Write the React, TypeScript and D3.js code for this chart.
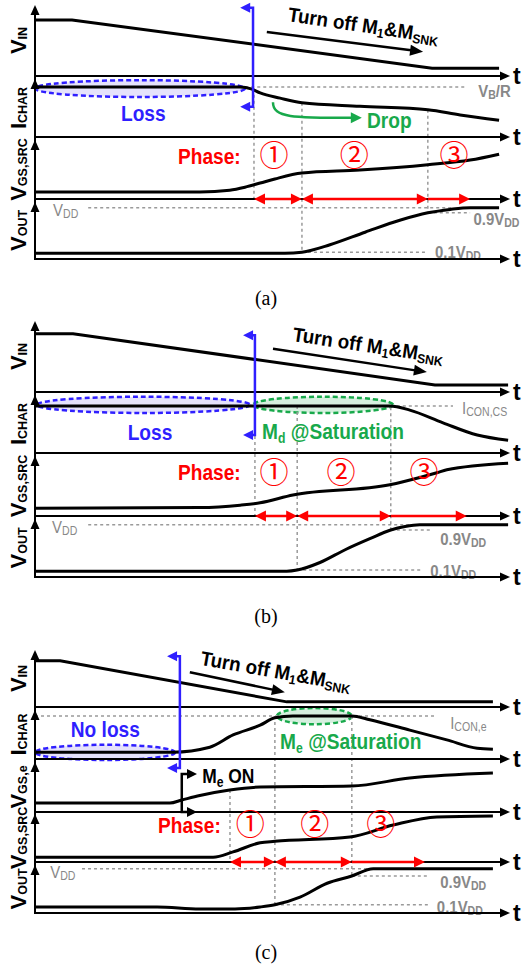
import React from 'react'
import * as d3 from 'd3'

type Pt = [number, number]
type Part = [string, boolean]
type Lvl = [string, number]

// time runs 0..100 across every panel, values are fractions of a row's height
const A_VIN: Pt[] = [[0, 0.79], [7.8, 0.79], [83.6, 0.11], [97.7, 0.11]]
const A_ICHAR: Pt[] = [[0, 0.86], [43.2, 0.86], [45.5, 0.83], [47.4, 0.76], [51.6, 0.67], [56.2, 0.59], [68.4, 0.53], [82.7, 0.47], [89.5, 0.38], [97.7, 0.29]]
const A_VGS_SRC: Pt[] = [[0, 0.12], [34.7, 0.12], [41, 0.15], [44.2, 0.2], [47.4, 0.27], [50.5, 0.34], [56.2, 0.44], [68.4, 0.49], [82.7, 0.58], [91.6, 0.66], [97.7, 0.76]]
const A_VOUT: Pt[] = [[0, 0.1], [52.6, 0.1], [56.2, 0.12], [62.1, 0.25], [69.5, 0.47], [76.8, 0.68], [82.7, 0.81], [87.4, 0.87], [91.6, 0.9], [97.7, 0.9]]

const B_VIN: Pt[] = [[0, 0.82], [8, 0.82], [84.2, 0.1], [99.6, 0.1]]
const B_ICHAR: Pt[] = [[0, 0.81], [74.7, 0.81], [78.9, 0.74], [85.9, 0.52], [93.1, 0.31], [99.6, 0.22]]
const B_VGS_SRC: Pt[] = [[0, 0.13], [34.7, 0.14], [43.2, 0.18], [47.4, 0.22], [54.3, 0.35], [74.7, 0.52], [77.5, 0.57], [84.6, 0.72], [86.7, 0.77], [99.6, 0.88]]
const B_VOUT: Pt[] = [[0, 0.1], [53, 0.1], [55.2, 0.12], [60, 0.25], [65.3, 0.47], [70.5, 0.66], [74.9, 0.81], [77.9, 0.87], [81, 0.9], [99.6, 0.9]]

const C_VIN: Pt[] = [[0, 0.81], [5.3, 0.81], [53, 0.09], [96.4, 0.09]]
const C_ICHAR: Pt[] = [[0, 0.14], [29, 0.14], [36.8, 0.24], [41.7, 0.49], [47.4, 0.69], [50.5, 0.84], [54.3, 0.88], [66.7, 0.88], [70.5, 0.8], [78.9, 0.59], [86.7, 0.39], [93.1, 0.22], [96.4, 0.2]]
const C_VGS_E: Pt[] = [[0, 0.18], [28.4, 0.18], [30.9, 0.24], [34.7, 0.33], [41, 0.44], [47.4, 0.5], [66.7, 0.52], [78.9, 0.68], [96.4, 0.78]]
const C_VGS_SRC: Pt[] = [[0, 0.1], [37.5, 0.1], [41.7, 0.21], [47.4, 0.4], [50.5, 0.43], [66.3, 0.52], [75.4, 0.77], [84.6, 0.94], [96.4, 0.96]]
const C_VOUT: Pt[] = [[0, 0.125], [25.7, 0.125], [34.7, 0.085], [42.1, 0.085], [47.4, 0.125], [50.5, 0.17], [55.8, 0.33], [61.5, 0.62], [66.7, 0.77], [71.2, 0.92], [96.4, 0.92]]

// phase boundaries (last one is the end of the phase-3 arrow)
const A_PHASES = [46.1, 56.2, 82.7, 91.6]
const B_PHASES = [46.3, 55.2, 74.9, 90.9]
const C_PHASES = [41.05, 50.5, 66.7, 82.1]
const PHASE_MARKS = ['\u2460', '\u2461', '\u2462']
const A_MARKS = [50.3, 67.2, 88.2]
const B_MARKS = [50.3, 64.4, 81.9]
const C_MARKS = [45.3, 58.9, 72.8]

const BLUE = '#2f1fff'
const GREEN = '#18a94b'
const RED = '#ff0000'
const GRAY = '#888888'
const DASH = '#9a9a9a'
const SANS = '"Liberation Sans", Arial, Helvetica, sans-serif'
const BLUE_FILL = 'rgba(80,60,230,0.15)'
const GREEN_FILL = 'rgba(30,170,80,0.18)'

const X0 = 35
const X1 = 510
const X = d3.scaleLinear().domain([0, 100]).range([X0, X1])

interface Row { key: string; top: number; base: number; main: string; sub: string }
interface Ref { row: string; v: number; t0: number; t1: number; lt: number; lv: number; parts: Part[]; bold?: boolean }
interface Ell { row: string; t0: number; t1: number; v0: number; v1: number; color: string; fill: string }
interface Note { row: string; t: number; v: number; parts: Part[]; color: string; anchor?: string; size?: number }
interface Bracket { t: number; arm: number; top: Lvl; bot: Lvl; color: string }
interface TurnOff { t: number; v: number; angle: number; a0: Pt; a1: Pt }
interface PanelProps {
  rows: Row[]
  series: Record<string, Pt[]>
  phases: number[]
  marks: number[]
  phaseText: Pt
  divFrom: Lvl[]
  divTo: Lvl[]
  refs: Ref[]
  ellipses: Ell[]
  notes: Note[]
  brackets: Bracket[]
  turnOff: TurnOff
  drop?: [Pt, Pt]
  caption: string
  captionY: number
}

function head(x: number, y: number, ang: number, len = 10, hw = 4.5) {
  const c = Math.cos(ang)
  const s = Math.sin(ang)
  const bx = x - len * c
  const by = y - len * s
  return `M${x},${y}L${bx - s * hw},${by + c * hw}L${bx + s * hw},${by - c * hw}Z`
}

function rich(parts: Part[], subSize: number, subDy: number) {
  let low = false
  return parts.map(([s, sub], i) => {
    let dy = 0
    if (sub && !low) { dy = subDy; low = true } else if (!sub && low) { dy = -subDy; low = false }
    return (
      <tspan key={i} dy={dy || undefined} fontSize={sub ? subSize : undefined}>{s}</tspan>
    )
  })
}

function Panel(p: PanelProps) {
  const ys: Record<string, d3.ScaleLinear<number, number>> = {}
  p.rows.forEach(r => { ys[r.key] = d3.scaleLinear().domain([0, 1]).range([r.base, r.top]) })
  const Y = (l: Lvl) => ys[l[0]](l[1])
  const top = p.rows[0].top
  const bottom = p.rows[p.rows.length - 1].base
  const phaseY = ys['VGS'](0)

  return (
    <g>
      {p.ellipses.map((e, i) => {
        const y0 = ys[e.row](e.v0)
        const y1 = ys[e.row](e.v1)
        return (
          <ellipse key={i} cx={(X(e.t0) + X(e.t1)) / 2} cy={(y0 + y1) / 2}
            rx={(X(e.t1) - X(e.t0)) / 2} ry={Math.abs(y1 - y0) / 2}
            fill={e.fill} stroke={e.color} strokeWidth={2.5} strokeDasharray="5,3" />
        )
      })}

      {p.refs.map((r, i) => {
        const y = ys[r.row](r.v)
        return (
          <g key={i}>
            <line x1={X(r.t0)} x2={X(r.t1)} y1={y} y2={y} stroke={DASH} strokeWidth={1.5} strokeDasharray="3,3" />
            <g transform={`translate(${X(r.lt)},${ys[r.row](r.lv)}) scale(0.88,1)`}>
              <text dy="0.35em" fontSize={17} fill={GRAY} fontWeight={r.bold ? 'bold' : 'normal'}>
                {rich(r.parts, 12, 2)}
              </text>
            </g>
          </g>
        )
      })}

      {p.divFrom.map((f, i) => (
        <line key={i} x1={X(p.phases[i])} x2={X(p.phases[i])} y1={Y(f)} y2={Y(p.divTo[i])}
          stroke={DASH} strokeWidth={1.5} strokeDasharray="3,3" />
      ))}

      <line x1={X0} x2={X0} y1={bottom + 1} y2={top + 8} stroke="#000" strokeWidth={2} />
      {p.rows.map(r => (
        <g key={r.key}>
          <line x1={X0} x2={X1 - 8} y1={r.base} y2={r.base} stroke="#000" strokeWidth={2} />
          <path d={head(X1, r.base, 0)} fill="#000" />
          <text x={513} y={r.base} dy="0.35em" fontSize={23} fontWeight="bold">t</text>
          <path d={head(X0, r.top, -Math.PI / 2)} fill="#000" />
          <text transform={`translate(26,${(r.top + r.base) / 2}) rotate(-90)`} textAnchor="middle"
            fontSize={22} fontWeight="bold">
            {r.main}<tspan fontSize={12.5} dy={1}>{r.sub}</tspan>
          </text>
        </g>
      ))}

      {p.rows.map(r => {
        const y = ys[r.key]
        const line = d3.line<Pt>()
          .x(d => X(d[0]))
          .y(d => y(d[1]))
          .curve(r.key === 'VIN' ? d3.curveLinear : d3.curveMonotoneX)
        return <path key={r.key} d={line(p.series[r.key]) || ''} fill="none" stroke="#000" strokeWidth={3} />
      })}

      {[0, 1, 2].map(i => {
        const xa = X(p.phases[i])
        const xb = X(p.phases[i + 1])
        const both = i < 2
        return (
          <g key={i} fill={RED}>
            <line x1={both ? xa + 8 : xa} x2={xb - 8} y1={phaseY} y2={phaseY} stroke={RED} strokeWidth={2.5} />
            {both && <path d={head(xa, phaseY, Math.PI, 11, 5.5)} />}
            <path d={head(xb, phaseY, 0, 11, 5.5)} />
          </g>
        )
      })}

      <g transform={`translate(${X(p.phaseText[0])},${ys['VGS'](p.phaseText[1])}) scale(0.87,1)`}>
        <text dy="0.35em" fontSize={22} fontWeight="bold" fill={RED}>Phase:</text>
      </g>
      {p.marks.map((t, i) => (
        <text key={i} x={X(t)} y={ys['VGS'](p.phaseText[1])} dy="0.36em" textAnchor="middle" fontSize={29}
          fill={RED} fontFamily='"Noto Sans CJK JP", "DejaVu Sans", sans-serif'>{PHASE_MARKS[i]}</text>
      ))}

      {p.notes.map((n, i) => (
        <g key={i} transform={`translate(${X(n.t)},${ys[n.row](n.v)}) scale(0.87,1)`}>
          <text dy="0.35em" fontSize={n.size || 22} fontWeight="bold" fill={n.color} textAnchor={n.anchor || 'start'}>
            {rich(n.parts, 14, 4)}
          </text>
        </g>
      ))}

      {p.brackets.map((b, i) => {
        const xl = X(b.t)
        const xa = X(b.arm)
        const dir = Math.sign(xa - xl)
        const yT = Y(b.top)
        const yB = Y(b.bot)
        return (
          <g key={i}>
            <path d={`M${xa - dir * 9},${yT}H${xl}V${yB}H${xa - dir * 9}`} fill="none" stroke={b.color} strokeWidth={2.5} />
            <path d={head(xa, yT, dir > 0 ? 0 : Math.PI, 10, 5)} fill={b.color} />
            <path d={head(xa, yB, dir > 0 ? 0 : Math.PI, 10, 5)} fill={b.color} />
          </g>
        )
      })}

      {(() => {
        const t = p.turnOff
        const ax0 = X(t.a0[0]), ay0 = ys['VIN'](t.a0[1])
        const ax1 = X(t.a1[0]), ay1 = ys['VIN'](t.a1[1])
        const ang = Math.atan2(ay1 - ay0, ax1 - ax0)
        return (
          <g>
            <text transform={`translate(${X(t.t)},${ys['VIN'](t.v)}) rotate(${t.angle}) scale(0.94,1)`}
              fontSize={20} fontWeight="bold">
              Turn off M<tspan fontSize={13} dy={3}>1</tspan><tspan dy={-3}>{'&M'}</tspan><tspan fontSize={13} dy={3}>SNK</tspan>
            </text>
            <line x1={ax0} y1={ay0} x2={ax1 - 10 * Math.cos(ang)} y2={ay1 - 10 * Math.sin(ang)} stroke="#000" strokeWidth={2.5} />
            <path d={head(ax1, ay1, ang, 13, 5.5)} fill="#000" />
          </g>
        )
      })()}

      {p.drop && (() => {
        const [a, b] = p.drop
        const x0 = X(a[0]), y0 = ys['ICHAR'](a[1])
        const x1 = X(b[0]), y1 = ys['ICHAR'](b[1])
        return (
          <g>
            <path d={`M${x0},${y0}C${x0},${y1} ${x0 + 20},${y1} ${x1 - 9},${y1}`} fill="none" stroke={GREEN} strokeWidth={2.5} />
            <path d={head(x1, y1, 0, 11, 5.5)} fill={GREEN} />
          </g>
        )
      })()}

      <text x={266} y={p.captionY} dy="0.35em" textAnchor="middle" fontSize={20}
        fontFamily='"Liberation Serif", "Times New Roman", serif'>{p.caption}</text>
    </g>
  )
}

const VDD: Part[] = [['V', false], ['DD', true]]
const V09: Part[] = [['0.9V', false], ['DD', true]]
const V01: Part[] = [['0.1V', false], ['DD', true]]

export default function App() {
  return (
    <div style={{ position: 'absolute', left: 0, top: 0, background: '#fff' }}>
      <svg width={522} height={968} style={{ display: 'block', fontFamily: SANS }}>
        <rect width={522} height={968} fill="#fff" />
        <Panel
          rows={[
            { key: 'VIN', top: 5, base: 76, main: 'V', sub: 'IN' },
            { key: 'ICHAR', top: 79, base: 137, main: 'I', sub: 'CHAR' },
            { key: 'VGS', top: 140, base: 199, main: 'V', sub: 'GS,SRC' },
            { key: 'VOUT', top: 202, base: 259, main: 'V', sub: 'OUT' },
          ]}
          series={{ VIN: A_VIN, ICHAR: A_ICHAR, VGS: A_VGS_SRC, VOUT: A_VOUT }}
          phases={A_PHASES}
          marks={A_MARKS}
          phaseText={[30.1, 0.73]}
          divFrom={[['ICHAR', 0.83], ['ICHAR', 0.59], ['ICHAR', 0.47]]}
          divTo={[['VGS', 0], ['VOUT', 0.12], ['VOUT', 0.81]]}
          refs={[
            { row: 'ICHAR', v: 0.86, t0: 43, t1: 90.5, lt: 93.3, lv: 0.8, parts: [['V', false], ['B', true], ['/R', false]], bold: true },
            { row: 'VOUT', v: 0.9, t0: 11.2, t1: 88, lt: 3.8, lv: 0.86, parts: VDD },
            { row: 'VOUT', v: 0.81, t0: 82.7, t1: 91.6, lt: 92.3, lv: 0.7, parts: V09, bold: true },
            { row: 'VOUT', v: 0.12, t0: 56.2, t1: 82.5, lt: 84.2, lv: 0.114, parts: V01, bold: true },
          ]}
          ellipses={[{ row: 'ICHAR', t0: 0, t1: 44.2, v0: 0.98, v1: 0.69, color: BLUE, fill: BLUE_FILL }]}
          notes={[
            { row: 'ICHAR', t: 22.8, v: 0.41, parts: [['Loss', false]], color: BLUE, anchor: 'middle' },
            { row: 'ICHAR', t: 69.9, v: 0.29, parts: [['Drop', false]], color: GREEN },
          ]}
          brackets={[{ t: 45.9, arm: 43.2, top: ['VIN', 0.96], bot: ['ICHAR', 0.52], color: BLUE }]}
          turnOff={{ t: 53.1, v: 0.775, angle: 8.5, a0: [48.8, 0.62], a1: [81.7, 0.34] }}
          drop={[[50.1, 0.6], [68.8, 0.33]]}
          caption="(a)"
          captionY={298}
        />
        <Panel
          rows={[
            { key: 'VIN', top: 321, base: 392, main: 'V', sub: 'IN' },
            { key: 'ICHAR', top: 395, base: 453, main: 'I', sub: 'CHAR' },
            { key: 'VGS', top: 456, base: 516, main: 'V', sub: 'GS,SRC' },
            { key: 'VOUT', top: 519, base: 577, main: 'V', sub: 'OUT' },
          ]}
          series={{ VIN: B_VIN, ICHAR: B_ICHAR, VGS: B_VGS_SRC, VOUT: B_VOUT }}
          phases={B_PHASES}
          marks={B_MARKS}
          phaseText={[30.1, 0.73]}
          divFrom={[['ICHAR', 0.81], ['ICHAR', 0.81], ['ICHAR', 0.79]]}
          divTo={[['VGS', 0], ['VOUT', 0.12], ['VOUT', 0.81]]}
          refs={[
            { row: 'ICHAR', v: 0.81, t0: 64.8, t1: 88, lt: 89.9, lv: 0.78, parts: [['I', false], ['CON,CS', true]] },
            { row: 'VOUT', v: 0.9, t0: 11.2, t1: 83, lt: 3.6, lv: 0.86, parts: VDD },
            { row: 'VOUT', v: 0.81, t0: 74.9, t1: 83.6, lt: 85.3, lv: 0.66, parts: V09, bold: true },
            { row: 'VOUT', v: 0.12, t0: 55.2, t1: 81.5, lt: 83.2, lv: 0.1, parts: V01, bold: true },
          ]}
          ellipses={[
            { row: 'ICHAR', t0: 0.4, t1: 45.3, v0: 0.97, v1: 0.69, color: BLUE, fill: BLUE_FILL },
            { row: 'ICHAR', t0: 45.9, t1: 75.4, v0: 0.97, v1: 0.69, color: GREEN, fill: GREEN_FILL },
          ]}
          notes={[
            { row: 'ICHAR', t: 24.2, v: 0.36, parts: [['Loss', false]], color: BLUE, anchor: 'middle' },
            { row: 'ICHAR', t: 47.8, v: 0.38, parts: [['M', false], ['d', true], [' @Saturation', false]], color: GREEN },
          ]}
          brackets={[{ t: 46.3, arm: 43.8, top: ['VIN', 0.8], bot: ['ICHAR', 0.31], color: BLUE }]}
          turnOff={{ t: 54.1, v: 0.72, angle: 8.5, a0: [50.1, 0.61], a1: [82.5, 0.28] }}
          caption="(b)"
          captionY={616}
        />
        <Panel
          rows={[
            { key: 'VIN', top: 650, base: 707, main: 'V', sub: 'IN' },
            { key: 'ICHAR', top: 710, base: 759, main: 'I', sub: 'CHAR' },
            { key: 'VGSE', top: 762, base: 812, main: 'V', sub: 'GS,e' },
            { key: 'VGS', top: 814, base: 862, main: 'V', sub: 'GS,SRC' },
            { key: 'VOUT', top: 865, base: 913, main: 'V', sub: 'OUT' },
          ]}
          series={{ VIN: C_VIN, ICHAR: C_ICHAR, VGSE: C_VGS_E, VGS: C_VGS_SRC, VOUT: C_VOUT }}
          phases={C_PHASES}
          marks={C_MARKS}
          phaseText={[25.9, 0.77]}
          divFrom={[['VGSE', 0.44], ['ICHAR', 0.88], ['ICHAR', 0.88]]}
          divTo={[['VGS', 0], ['VOUT', 0.17], ['VOUT', 0.77]]}
          refs={[
            { row: 'ICHAR', v: 0.88, t0: 0, t1: 84.6, lt: 87.4, lv: 0.74, parts: [['I', false], ['CON,e', true]] },
            { row: 'VOUT', v: 0.92, t0: 9.9, t1: 70, lt: 3.2, lv: 0.85, parts: VDD },
            { row: 'VOUT', v: 0.77, t0: 66.7, t1: 82.7, lt: 85.3, lv: 0.64, parts: V09, bold: true },
            { row: 'VOUT', v: 0.17, t0: 50.5, t1: 82.7, lt: 84.6, lv: 0.125, parts: V01, bold: true },
          ]}
          ellipses={[
            { row: 'ICHAR', t0: 0, t1: 29.5, v0: 0.29, v1: -0.02, color: BLUE, fill: BLUE_FILL },
            { row: 'ICHAR', t0: 50.9, t1: 66.7, v0: 1.04, v1: 0.71, color: GREEN, fill: GREEN_FILL },
          ]}
          notes={[
            { row: 'ICHAR', t: 14.8, v: 0.6, parts: [['No loss', false]], color: BLUE, anchor: 'middle' },
            { row: 'ICHAR', t: 51.6, v: 0.37, parts: [['M', false], ['e', true], [' @Saturation', false]], color: GREEN },
            { row: 'VGSE', t: 35.2, v: 0.72, parts: [['M', false], ['e', true], [' ON', false]], color: '#000', size: 20 },
          ]}
          brackets={[
            { t: 30.5, arm: 27.8, top: ['VIN', 0.89], bot: ['VGSE', 0.88], color: BLUE },
            { t: 30.9, arm: 34.1, top: ['VGSE', 0.76], bot: ['VGSE', 0], color: '#000' },
          ]}
          turnOff={{ t: 34.7, v: 0.74, angle: 10, a0: [32.6, 0.61], a1: [52.6, 0.26] }}
          caption="(c)"
          captionY={952}
        />
      </svg>
    </div>
  )
}
